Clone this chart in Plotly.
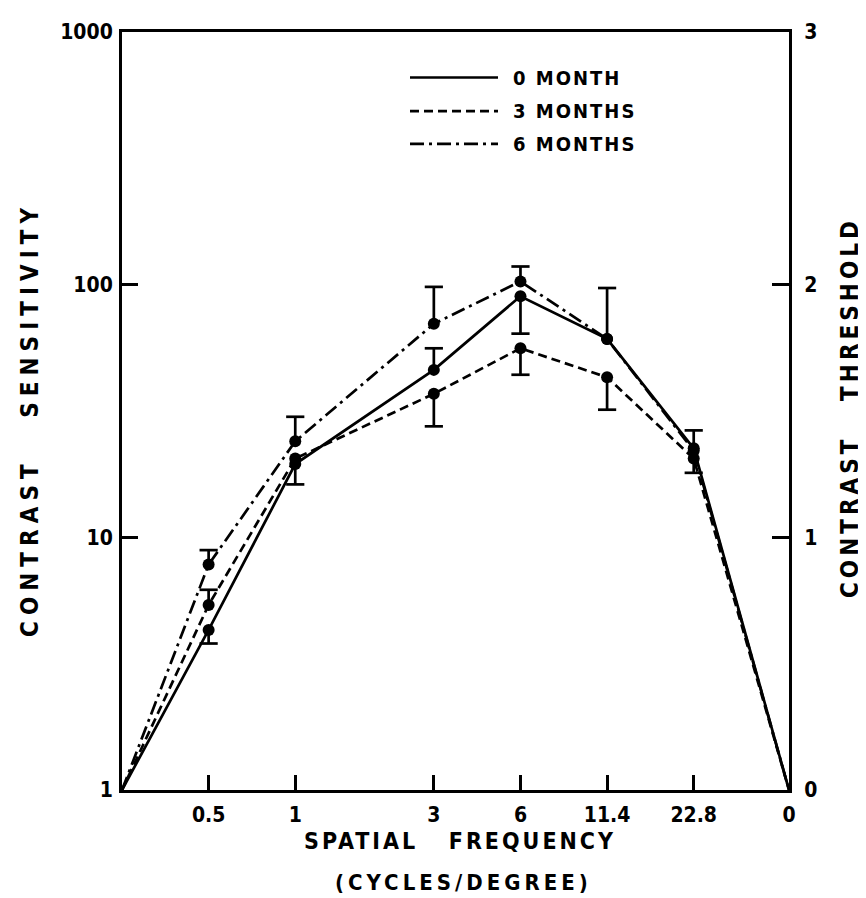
import plotly.graph_objects as go

# ---------------- data ----------------
freq_labels = ["0.5", "1", "3", "6", "11.4", "22.8", "0"]
freq_pos = [1.0, 2.0, 3.6, 4.6, 5.6, 6.6, 7.7]   # axis position of each frequency tick
origin_pos = 0.0
end_value = 1.0                                    # all curves start / end at sensitivity 1

series_names = ["0 MONTH", "3 MONTHS", "6 MONTHS"]
# contrast sensitivity at 0.5, 1, 3, 6, 11.4, 22.8 c/deg
sens_0m = [4.3, 19.5, 46, 90, 61, 22.5]
sens_3m = [5.4, 20.5, 37, 56, 43, 20.5]
sens_6m = [7.8, 24, 70, 103, 61, 22]
# error bar ends (None = not drawn)
upper_0m = [None, None, 56, None, None, 26.5]
lower_0m = [3.8, 16.2, None, 64, None, None]
upper_3m = [6.2, None, None, None, None, None]
lower_3m = [None, None, 27.5, 44, 32, 18]
upper_6m = [8.9, 30, 98, 118, 97, None]
lower_6m = [None, None, None, None, None, None]

left_ticks = [1, 10, 100, 1000]
left_ticktext = ["1", "10", "100", "1000"]
right_ticks = [0, 1, 2, 3]
right_ticktext = ["0", "1", "2", "3"]

# ---------------- styles ----------------
dashes = ["solid", "9px,5px", "14px,5px,3px,5px"]
FONT = "DejaVu Sans Condensed"
L, R, T, B = 114, 781, 16, 782
W, H = 866, 898

fig = go.Figure()

all_vals = [sens_0m, sens_3m, sens_6m]
all_up = [upper_0m, upper_3m, upper_6m]
all_lo = [lower_0m, lower_3m, lower_6m]

data_x = [origin_pos] + freq_pos[:6] + [freq_pos[6]]
for name, vals, up, lo, dash in zip(series_names, all_vals, all_up, all_lo, dashes):
    y = [end_value] + vals + [end_value]
    plus = [0] + [(u - v) if u is not None else 0 for u, v in zip(up, vals)] + [0]
    minus = [0] + [(v - l) if l is not None else 0 for l, v in zip(lo, vals)] + [0]
    fig.add_trace(go.Scatter(
        x=data_x, y=y, mode="lines", name=name, showlegend=False,
        line=dict(color="black", width=2.7, dash=dash),
        error_y=dict(type="data", symmetric=False, array=plus, arrayminus=minus,
                     width=0, thickness=2.7, color="black"),
    ))
    cx, cy = [], []
    for i in range(6):
        for b in (up[i], lo[i]):
            if b is not None:
                cx.append(freq_pos[i])
                cy.append(b)
    fig.add_trace(go.Scatter(
        x=cx, y=cy, mode="markers", showlegend=False, hoverinfo="skip",
        marker=dict(symbol="line-ew", size=13, color="black",
                    line=dict(color="black", width=2.7)),
    ))

# data points (filled dots) drawn on top
for vals in all_vals:
    fig.add_trace(go.Scatter(
        x=freq_pos[:6], y=vals, mode="markers", showlegend=False,
        marker=dict(color="#000000", size=12, opacity=1,
                    line=dict(color="#000000", width=0)),
    ))

# invisible trace to activate right axis
fig.add_trace(go.Scatter(x=[origin_pos], y=[0], yaxis="y2", mode="markers",
                         marker=dict(opacity=0), showlegend=False, hoverinfo="skip"))

tickfont = dict(family=FONT, size=21, color="black", weight="bold")

fig.update_layout(
    width=W, height=H,
    margin=dict(l=L, r=W - R, t=T, b=H - B),
    paper_bgcolor="white", plot_bgcolor="white",
    xaxis=dict(range=[origin_pos, freq_pos[-1]], tickvals=freq_pos, ticktext=freq_labels,
               ticks="inside", ticklen=15, tickwidth=2.5, tickcolor="black",
               showline=True, linewidth=3, linecolor="black", mirror=True,
               showgrid=False, zeroline=False, tickfont=tickfont, ticklabelstandoff=4),
    yaxis=dict(type="log", range=[0, 3], tickvals=left_ticks, ticktext=left_ticktext,
               ticks="inside", ticklen=16, tickwidth=2.5, tickcolor="black",
               showline=True, linewidth=3, linecolor="black",
               showgrid=False, zeroline=False, tickfont=tickfont, ticklabelstandoff=2),
    yaxis2=dict(overlaying="y", side="right", range=[0, 3], tickvals=right_ticks,
                ticktext=right_ticktext, ticks="inside", ticklen=17, tickwidth=2.5,
                tickcolor="black", showline=True, linewidth=3, linecolor="black",
                showgrid=False, zeroline=False, tickfont=tickfont, ticklabelstandoff=8),
)

def px2x(px):
    return (px - L) / (R - L)

def px2y(py):
    return (B - py) / (B - T)

# legend drawn as shapes + text
leg_y = [62, 96, 129]
for name, dash, yy in zip(series_names, dashes, leg_y):
    fig.add_shape(type="line", xref="paper", yref="paper",
                  x0=px2x(402), x1=px2x(490), y0=px2y(yy), y1=px2y(yy),
                  line=dict(color="black", width=2.7, dash=dash))
    fig.add_annotation(xref="paper", yref="paper", x=px2x(503), y=px2y(yy),
                       xanchor="left", yanchor="middle", showarrow=False,
                       text='<span style="letter-spacing:2px">' + name + "</span>",
                       font=dict(family=FONT, size=20, color="black", weight="bold"))

title_font = dict(family=FONT, size=24, color="black", weight="bold")
fig.add_annotation(xref="paper", yref="paper", x=px2x(22), y=px2y(408),
                   xanchor="center", yanchor="middle", showarrow=False, textangle=-90,
                   text='<span style="letter-spacing:6px">CONTRAST   SENSITIVITY</span>',
                   font=title_font)
fig.add_annotation(xref="paper", yref="paper", x=px2x(842), y=px2y(395),
                   xanchor="center", yanchor="middle", showarrow=False, textangle=-90,
                   text='<span style="letter-spacing:4px">CONTRAST   THRESHOLD</span>',
                   font=title_font)
fig.add_annotation(xref="paper", yref="paper", x=px2x(452), y=px2y(834),
                   xanchor="center", yanchor="middle", showarrow=False,
                   text='<span style="letter-spacing:3px">SPATIAL   FREQUENCY</span>',
                   font=dict(family=FONT, size=23, color="black", weight="bold"))
fig.add_annotation(xref="paper", yref="paper", x=px2x(455), y=px2y(875),
                   xanchor="center", yanchor="middle", showarrow=False,
                   text='<span style="letter-spacing:4px">(CYCLES/DEGREE)</span>',
                   font=dict(family=FONT, size=22, color="black", weight="bold"))

fig.write_html("out.html")
